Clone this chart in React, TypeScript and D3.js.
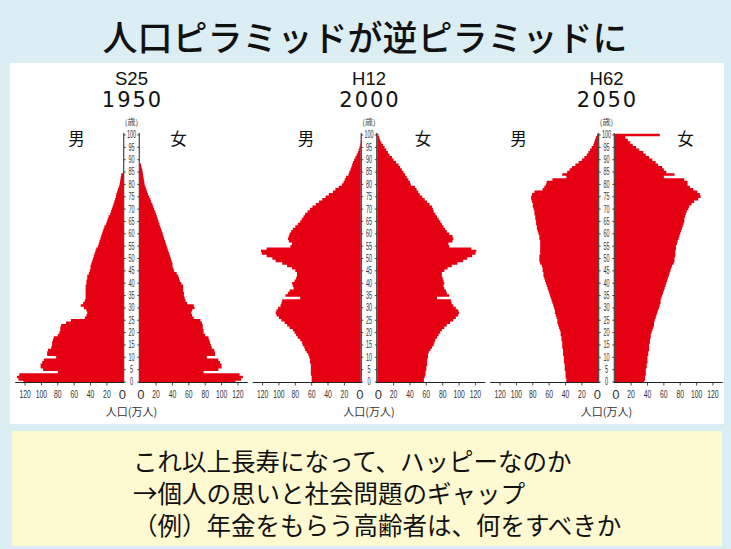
import React from "react";
import * as d3 from "d3";

// ---------- text ----------
const TITLE = "人口ピラミッドが逆ピラミッドに";
const NOTE_LINES = [
  "これ以上長寿になって、ハッピーなのか",
  "→個人の思いと社会問題のギャップ",
  "（例）年金をもらう高齢者は、何をすべきか",
];
const ERA_LABELS = ["S25", "H12", "H62"];
const YEAR_LABELS = ["1950", "2000", "2050"];
const AGE_UNIT = "(歳)";
const POP_UNIT = "人口(万人)";
const MALE_LABEL = "男";
const FEMALE_LABEL = "女";
const AGE_TICKS = d3.range(0, 101, 5);
const POP_TICKS = [0, 20, 40, 60, 80, 100, 120];

// ---------- data: population by single age 0..100 (万人) ----------
const MALE_1950 = [
  122, 128, 130, 127, 80, 98, 101, 101, 99, 97,
  82, 93, 93, 92, 88, 87, 87, 86, 85, 80,
  78, 77, 77, 76, 70, 64, 47, 45, 44, 45,
  48, 52, 49, 47, 46, 46, 46, 46, 46, 46,
  45, 45, 44, 44, 42, 41, 40, 40, 39, 38,
  37, 36, 35, 34, 33, 31, 30, 29, 28, 27,
  26, 25, 24, 23, 21, 20, 19, 18, 16, 15,
  14, 13, 12, 11, 10, 9, 8.5, 7.5, 6.5, 5.5,
  4.5, 4, 3.5, 3, 2.5, 0, 0, 0, 0, 0,
  0, 0, 0, 0, 0, 0, 0, 0, 0, 0,
  0,
];
const FEMALE_1950 = [
  117, 124, 126, 122, 78, 96, 100, 100, 98, 96,
  82, 92, 92, 91, 88, 87, 86, 85, 84, 80,
  78, 78, 77, 77, 76, 74, 66, 64, 63, 64,
  67, 66, 58, 56, 55, 54, 54, 53, 53, 53,
  51, 49, 48, 47, 45, 42, 41, 40, 40, 39,
  38, 37, 36, 35, 34, 33, 32, 31, 30, 29,
  28, 27, 26, 25, 24, 23, 22, 21, 20, 19,
  17.5, 16.5, 15.5, 14, 13, 11.5, 10, 9, 8, 7,
  6, 5.5, 5, 4.5, 4, 3.5, 3, 2, 1.5, 0,
  0, 0, 0, 0, 0, 0, 0, 0, 0, 0,
  0,
];
const MALE_2000 = [
  60, 60, 60, 61, 61, 61, 61, 61, 62, 62,
  63, 64, 66, 68, 69, 71, 72, 74, 77, 79,
  81, 83, 87, 90, 93, 97, 100, 103, 104, 103,
  101, 98, 97, 96, 74, 92, 89, 87, 82, 83,
  84, 81, 79, 78, 78, 80, 84, 90, 96, 104,
  108, 115, 121, 122, 115, 86, 84, 88, 89, 88,
  87, 85, 83, 80, 77, 74, 72, 70, 68, 65,
  62, 59, 55, 51, 47, 43, 39, 34, 31, 27,
  23, 21, 19.5, 18, 15, 14, 12.5, 11.5, 10.5, 9.5,
  8, 6.5, 5, 3.5, 2.5, 1.5, 0.8, 0.5, 0.3, 0.2,
  0.1,
];
const FEMALE_2000 = [
  57, 57, 58, 59, 59, 60, 60, 61, 61, 61,
  62, 62, 63, 65, 67, 69, 70, 71, 73, 75,
  77, 79, 82, 85, 89, 93, 96, 99, 100, 99,
  96, 93, 91, 90, 73, 88, 85, 84, 82, 81,
  82, 81, 80, 79, 79, 82, 86, 91, 98, 105,
  110, 116, 120, 121, 115, 88, 87, 92, 93, 92,
  88, 85, 83, 81, 79, 77, 75, 73, 71, 69,
  68, 67, 64, 61, 58, 55, 52, 50, 48, 46,
  41, 40, 38, 36, 34, 32, 30, 28, 26, 23,
  20, 18, 15, 13, 11, 9, 7, 5, 3.5, 2.5,
  1.5,
];
const MALE_2050 = [
  39, 39, 40, 40, 40, 41, 41, 41, 42, 42,
  42, 43, 43, 43, 44, 44, 44, 45, 45, 46,
  46, 47, 48, 49, 50, 50, 51, 52, 53, 53,
  54, 55, 56, 57, 58, 59, 60, 61, 62, 63,
  64, 65, 66, 67, 67, 68, 68, 69, 71, 72,
  72, 72, 71, 71, 71, 71, 71, 71, 72, 72,
  73, 74, 75, 75, 76, 76, 77, 77, 78, 78,
  79, 80, 80, 81, 82, 82, 81, 78, 68, 66,
  64, 63, 56, 39, 44, 38, 35, 32, 28, 24,
  20, 17, 14, 12, 10, 8, 6, 5, 4, 3,
  1.5,
];
const FEMALE_2050 = [
  36, 37, 37, 38, 38, 38, 39, 39, 40, 40,
  40, 41, 41, 42, 42, 42, 43, 43, 44, 44,
  45, 46, 47, 48, 48, 49, 50, 51, 52, 53,
  54, 55, 56, 56, 57, 58, 59, 60, 61, 62,
  63, 64, 65, 66, 67, 68, 69, 70, 72, 73,
  73, 74, 74, 74, 75, 75, 76, 77, 78, 79,
  80, 81, 82, 83, 84, 85, 85, 86, 87, 88,
  90, 91, 94, 97, 102, 105, 104, 101, 96, 92,
  89, 89, 85, 60, 73, 63, 60, 58, 53, 50,
  46, 42, 38, 35, 30, 26, 22, 19, 16, 13,
  55,
];

const MALE_SERIES = [MALE_1950, MALE_2000, MALE_2050];
const FEMALE_SERIES = [FEMALE_1950, FEMALE_2000, FEMALE_2050];

// ---------- layout ----------
const W = 731;
const H = 549;
const BG = "#daeef3";
const NOTE_BG = "#fdf9d0";
const RED = "#e50012";
const PANEL_CX = [131.5, 369, 606.5];
const MALE_LABEL_DX = [-55, -63, -88];
const FEMALE_LABEL_DX = [47, 54, 79];
const HALF_STRIP = 8.25;
const POP_MAX = 132;
const BAR_SPAN = 108;
const Y_AGE0 = 382;
const Y_AGE100 = 135;
const JP = "'Noto Sans CJK JP', 'Noto Sans', sans-serif";
const LAT = "'Liberation Sans', Arial, sans-serif";

type Pt = { v: number; y: number };

function Pyramid({ idx }: { idx: number }) {
  const cx = PANEL_CX[idx];
  const y = d3.scaleLinear().domain([0, 100]).range([Y_AGE0, Y_AGE100]);
  const xL = d3.scaleLinear().domain([0, POP_MAX]).range([cx - HALF_STRIP, cx - HALF_STRIP - BAR_SPAN]);
  const xR = d3.scaleLinear().domain([0, POP_MAX]).range([cx + HALF_STRIP, cx + HALF_STRIP + BAR_SPAN]);

  const toPts = (vals: number[]): Pt[] =>
    vals.flatMap((v, a) => [
      { v, y: Math.min(y(a - 0.5), Y_AGE0) },
      { v, y: y(a + 0.5) },
    ]);

  const areaL = d3.area<Pt>().y((d) => d.y).x0(xL(0)).x1((d) => xL(d.v));
  const areaR = d3.area<Pt>().y((d) => d.y).x0(xR(0)).x1((d) => xR(d.v));

  const axisY = Y_AGE0 + 0.5;

  return (
    <g>
      {/* headers */}
      <text x={cx} y={85} textAnchor="middle" fontFamily={LAT} fontSize={18.5} fill="#111">
        {ERA_LABELS[idx]}
      </text>
      <text x={cx + 1} y={107} textAnchor="middle" fontFamily="'DejaVu Sans', sans-serif" fontSize={21} letterSpacing={2} fill="#111">
        {YEAR_LABELS[idx]}
      </text>
      <text x={cx} y={124.5} textAnchor="middle" fontFamily={JP} fontSize={8} fill="#444">
        {AGE_UNIT}
      </text>
      <text x={cx + MALE_LABEL_DX[idx]} y={145} textAnchor="middle" fontFamily={JP} fontSize={16.5} fill="#111">
        {MALE_LABEL}
      </text>
      <text x={cx + FEMALE_LABEL_DX[idx]} y={145} textAnchor="middle" fontFamily={JP} fontSize={16.5} fill="#111">
        {FEMALE_LABEL}
      </text>

      {/* bars */}
      <path d={areaL(toPts(MALE_SERIES[idx])) || ""} fill={RED} />
      <path d={areaR(toPts(FEMALE_SERIES[idx])) || ""} fill={RED} />

      {/* age strip */}
      <line x1={xL(0) + 0.5} x2={xL(0) + 0.5} y1={y(100) - 2} y2={axisY} stroke="#222" strokeWidth={1} />
      <line x1={xR(0) - 0.5} x2={xR(0) - 0.5} y1={y(100) - 2} y2={axisY} stroke="#222" strokeWidth={1} />
      {AGE_TICKS.map((a) => (
        <g key={a}>
          <line x1={xL(0) + 0.5} x2={xL(0) + 2.5} y1={y(a)} y2={y(a)} stroke="#222" strokeWidth={0.8} />
          <line x1={xR(0) - 0.5} x2={xR(0) - 2.5} y1={y(a)} y2={y(a)} stroke="#222" strokeWidth={0.8} />
          <text
            transform={`translate(${cx},${y(a) + 3.4}) scale(0.55,1)`}
            textAnchor="middle"
            fontFamily={LAT}
            fontSize={10}
            fill="#333"
          >
            {a}
          </text>
        </g>
      ))}

      {/* population axes */}
      <line x1={xL(POP_MAX)} x2={xL(0) + 1} y1={axisY} y2={axisY} stroke="#222" strokeWidth={1} />
      <line x1={xR(0) - 1} x2={xR(POP_MAX)} y1={axisY} y2={axisY} stroke="#222" strokeWidth={1} />
      {POP_TICKS.map((t) => (
        <g key={t}>
          {t > 0 && (
            <>
              <line x1={xL(t)} x2={xL(t)} y1={axisY} y2={axisY + 3} stroke="#222" strokeWidth={0.8} />
              <line x1={xR(t)} x2={xR(t)} y1={axisY} y2={axisY + 3} stroke="#222" strokeWidth={0.8} />
            </>
          )}
          {t === 0 ? (
            <>
              <text x={xL(0) - 1} y={399} textAnchor="middle" fontFamily={LAT} fontSize={13} fill="#333">0</text>
              <text x={xR(0) + 1} y={399} textAnchor="middle" fontFamily={LAT} fontSize={13} fill="#333">0</text>
            </>
          ) : (
            <>
              <text transform={`translate(${xL(t)},${397.5}) scale(0.68,1)`} textAnchor="middle" fontFamily={LAT} fontSize={10} fill="#333">{t}</text>
              <text transform={`translate(${xR(t)},${397.5}) scale(0.68,1)`} textAnchor="middle" fontFamily={LAT} fontSize={10} fill="#333">{t}</text>
            </>
          )}
        </g>
      ))}
      <text x={cx} y={415.5} textAnchor="middle" fontFamily={JP} fontSize={11} fill="#333">
        {POP_UNIT}
      </text>
    </g>
  );
}

export default function App() {
  return (
    <svg
      width={W}
      height={H}
      viewBox={`0 0 ${W} ${H}`}
      style={{ position: "absolute", left: 0, top: 0, display: "block" }}
    >
      <rect x={0} y={0} width={W} height={H} fill={BG} />
      <text x={365} y={51} textAnchor="middle" fontFamily={JP} fontWeight={500} fontSize={35} fill="#111">
        {TITLE}
      </text>
      <rect x={10} y={63} width={714} height={361} fill="#fff" />
      {PANEL_CX.map((_, i) => (
        <Pyramid key={i} idx={i} />
      ))}
      <rect x={12} y={431} width={710} height={115} fill={NOTE_BG} />
      {NOTE_LINES.map((line, i) => (
        <text key={i} x={133} y={471 + i * 32} fontFamily={JP} fontSize={24.5} fill="#111">
          {line}
        </text>
      ))}
    </svg>
  );
}
